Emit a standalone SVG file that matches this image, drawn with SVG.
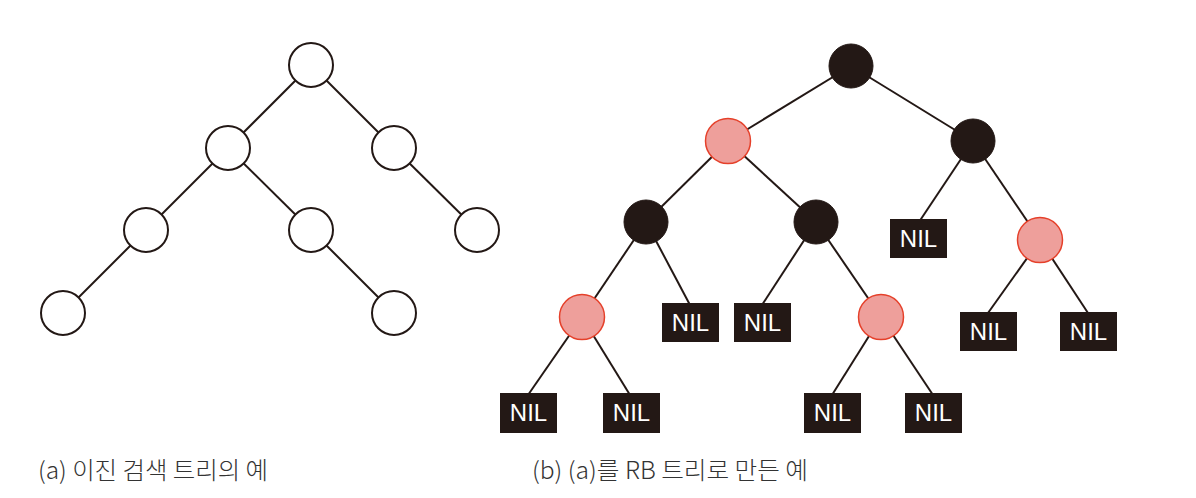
<svg xmlns="http://www.w3.org/2000/svg" width="1196" height="498" viewBox="0 0 1196 498">
<style>
.e{stroke:#231815;stroke-width:2;fill:none}
.w{fill:#fff;stroke:#231815;stroke-width:2}
.b{fill:#231815;stroke:#231815;stroke-width:1}
.r{fill:#ee9f9b;stroke:#e5402a;stroke-width:1.5}
.n{fill:#231815}
.t{fill:#fff;font-family:"Liberation Sans",Arial,sans-serif;font-size:24px;text-anchor:middle}
.c{fill:#333;font-family:"Noto Sans CJK KR","Liberation Sans",sans-serif;font-size:24px;font-weight:300}
</style>
<rect width="1196" height="498" fill="#fff"/>
<g id="connectors">
<line class="e" x1="311" y1="65" x2="228" y2="148"/>
<line class="e" x1="311" y1="65" x2="394" y2="148"/>
<line class="e" x1="228" y1="148" x2="146" y2="230"/>
<line class="e" x1="228" y1="148" x2="311" y2="230"/>
<line class="e" x1="394" y1="148" x2="477" y2="230"/>
<line class="e" x1="146" y1="230" x2="63" y2="313"/>
<line class="e" x1="311" y1="230" x2="394" y2="313"/>
<line class="e" x1="851" y1="66" x2="728" y2="141"/>
<line class="e" x1="851" y1="66" x2="973" y2="141"/>
<line class="e" x1="728" y1="141" x2="646" y2="222"/>
<line class="e" x1="728" y1="141" x2="816" y2="222"/>
<line class="e" x1="973" y1="141" x2="919" y2="222"/>
<line class="e" x1="973" y1="141" x2="1040" y2="240"/>
<line class="e" x1="646" y1="222" x2="582" y2="317"/>
<line class="e" x1="646" y1="222" x2="690" y2="305"/>
<line class="e" x1="816" y1="222" x2="762" y2="305"/>
<line class="e" x1="816" y1="222" x2="881" y2="317"/>
<line class="e" x1="1040" y1="240" x2="988" y2="313"/>
<line class="e" x1="1040" y1="240" x2="1088" y2="313"/>
<line class="e" x1="582" y1="317" x2="528" y2="395"/>
<line class="e" x1="582" y1="317" x2="630" y2="395"/>
<line class="e" x1="881" y1="317" x2="832" y2="395"/>
<line class="e" x1="881" y1="317" x2="933" y2="395"/>
</g>
<g id="a-root"><circle class="w" cx="311" cy="65" r="22"/></g>
<g id="a-l"><circle class="w" cx="228" cy="148" r="22"/></g>
<g id="a-r"><circle class="w" cx="394" cy="148" r="22"/></g>
<g id="a-ll"><circle class="w" cx="146" cy="230" r="22"/></g>
<g id="a-lr"><circle class="w" cx="311" cy="230" r="22"/></g>
<g id="a-rr"><circle class="w" cx="477" cy="230" r="22"/></g>
<g id="a-lll"><circle class="w" cx="63" cy="313" r="22"/></g>
<g id="a-lrr"><circle class="w" cx="394" cy="313" r="22"/></g>

<g id="b-root"><circle class="b" cx="851" cy="66" r="22"/></g>
<g id="b-l"><circle class="r" cx="728" cy="141" r="22.5"/></g>
<g id="b-r"><circle class="b" cx="973" cy="141" r="22"/></g>
<g id="b-ll"><circle class="b" cx="646" cy="222" r="22"/></g>
<g id="b-lr"><circle class="b" cx="816" cy="222" r="22"/></g>
<g id="b-rl"><rect class="n" x="890" y="219" width="57" height="39"/><text class="t" x="918.5" y="247">NIL</text></g>
<g id="b-rr"><circle class="r" cx="1040" cy="240" r="22.5"/></g>
<g id="b-lll"><circle class="r" cx="582" cy="317" r="22.5"/></g>
<g id="b-llr"><rect class="n" x="662" y="303" width="57" height="39"/><text class="t" x="690.5" y="331">NIL</text></g>
<g id="b-lrl"><rect class="n" x="734" y="303" width="57" height="39"/><text class="t" x="762.5" y="331">NIL</text></g>
<g id="b-lrr"><circle class="r" cx="881" cy="317" r="22.5"/></g>
<g id="b-rrl"><rect class="n" x="960" y="312" width="57" height="39"/><text class="t" x="988.5" y="340">NIL</text></g>
<g id="b-rrr"><rect class="n" x="1060" y="312" width="57" height="39"/><text class="t" x="1088.5" y="340">NIL</text></g>
<g id="b-llll"><rect class="n" x="500" y="393" width="57" height="40"/><text class="t" x="528.5" y="421">NIL</text></g>
<g id="b-lllr"><rect class="n" x="603" y="393" width="57" height="40"/><text class="t" x="631.5" y="421">NIL</text></g>
<g id="b-lrrl"><rect class="n" x="804" y="393" width="57" height="40"/><text class="t" x="832.5" y="421">NIL</text></g>
<g id="b-lrrr"><rect class="n" x="905" y="393" width="57" height="40"/><text class="t" x="933.5" y="421">NIL</text></g>

<text class="c" x="38" y="479" textLength="230" lengthAdjust="spacingAndGlyphs">(a) 이진 검색 트리의 예</text>
<text class="c" x="532" y="479" textLength="276" lengthAdjust="spacingAndGlyphs">(b) (a)를 RB 트리로 만든 예</text>
</svg>
